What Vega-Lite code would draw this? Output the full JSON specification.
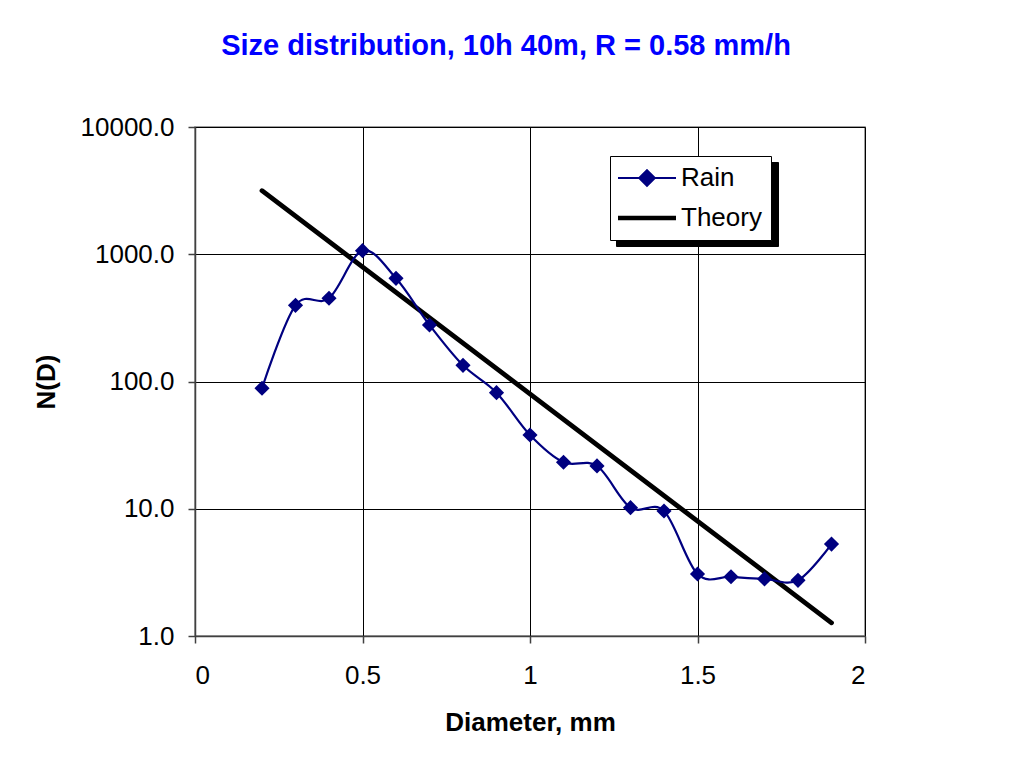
{
  "$schema": "https://vega.github.io/schema/vega-lite/v6.json",
  "width": 670,
  "height": 509,
  "autosize": "none",
  "padding": {"left": 195, "top": 127, "right": 144, "bottom": 130},
  "background": "white",
  "title": {
    "text": "Size distribution, 10h 40m, R = 0.58 mm/h",
    "color": "#0000FF",
    "font": "Liberation Sans",
    "fontSize": 29,
    "fontWeight": "bold",
    "anchor": "middle",
    "frame": "group",
    "dx": -24,
    "offset": 53
  },
  "config": {
    "view": {"stroke": "#808080", "strokeWidth": 1.5},
    "axis": {
      "labelFont": "Liberation Sans",
      "labelFontSize": 26,
      "labelColor": "black",
      "titleFont": "Liberation Sans",
      "titleFontSize": 26,
      "titleFontWeight": "bold",
      "titleColor": "black",
      "domainColor": "#404040",
      "domainWidth": 1.5,
      "tickColor": "#404040",
      "tickWidth": 1.5,
      "tickSize": 7,
      "gridColor": "black",
      "gridWidth": 1,
      "gridOpacity": 1
    }
  },
  "data": {
    "values": [
      {"D": 0.2, "N": 88.5, "series": "Rain"},
      {"D": 0.3, "N": 397, "series": "Rain"},
      {"D": 0.4, "N": 451, "series": "Rain"},
      {"D": 0.5, "N": 1067, "series": "Rain"},
      {"D": 0.6, "N": 647, "series": "Rain"},
      {"D": 0.7, "N": 278, "series": "Rain"},
      {"D": 0.8, "N": 134, "series": "Rain"},
      {"D": 0.9, "N": 81.7, "series": "Rain"},
      {"D": 1.0, "N": 38.0, "series": "Rain"},
      {"D": 1.1, "N": 23.2, "series": "Rain"},
      {"D": 1.2, "N": 21.7, "series": "Rain"},
      {"D": 1.3, "N": 10.2, "series": "Rain"},
      {"D": 1.4, "N": 9.6, "series": "Rain"},
      {"D": 1.5, "N": 3.07, "series": "Rain"},
      {"D": 1.6, "N": 2.92, "series": "Rain"},
      {"D": 1.7, "N": 2.81, "series": "Rain"},
      {"D": 1.8, "N": 2.74, "series": "Rain"},
      {"D": 1.9, "N": 5.28, "series": "Rain"},
      {"D": 0.2, "N": 3160, "series": "Theory"},
      {"D": 1.9, "N": 1.27, "series": "Theory"}
    ]
  },
  "encoding": {
    "x": {
      "field": "D",
      "type": "quantitative",
      "scale": {"domain": [0, 2], "nice": false, "zero": false},
      "axis": {
        "title": "Diameter, mm",
        "values": [0, 0.5, 1, 1.5, 2],
        "format": "~g",
        "labelPadding": 19,
        "titlePadding": 21
      }
    },
    "y": {
      "field": "N",
      "type": "quantitative",
      "scale": {"type": "log", "domain": [1, 10000], "nice": false},
      "axis": {
        "title": "N(D)",
        "values": [1, 10, 100, 1000, 10000],
        "format": ".1f",
        "labelPadding": 14,
        "titlePadding": 21
      }
    },
    "color": {
      "field": "series",
      "type": "nominal",
      "scale": {"domain": ["Rain", "Theory"], "range": ["#000080", "black"]},
      "legend": {
        "orient": "none",
        "legendX": 415,
        "legendY": 29,
        "zindex": 2,
        "title": null,
        "fillColor": "white",
        "strokeColor": "black",
        "padding": 9,
        "rowPadding": 14,
        "labelFont": "Liberation Sans",
        "labelFontSize": 26,
        "labelColor": "black",
        "labelOffset": 21,
        "symbolOffset": 15,
        "symbolSize": 3364,
        "symbolType": "stroke",
        "encode": {
          "symbols": {
            "update": {
              "shape": {"signal": "datum.value === 'Rain' ? 'M-1,0L1,0M0,-0.27L0.27,0L0,0.27L-0.27,0Z' : 'M-1,0L1,0'"},
              "fill": {"signal": "datum.value === 'Rain' ? '#000080' : 'transparent'"},
              "strokeWidth": {"signal": "datum.value === 'Rain' ? 2 : 4.5"},
              "opacity": {"value": 1}
            }
          }
        }
      }
    }
  },
  "layer": [
    {
      "transform": [{"filter": "datum.series === 'Theory'"}],
      "mark": {"type": "line", "strokeWidth": 4.8, "strokeCap": "round", "clip": true},
      "encoding": {
        "opacity": {
          "field": "series",
          "type": "nominal",
          "scale": {"domain": ["Theory", "Rain"], "range": [1, 1]},
          "legend": {
            "orient": "none",
            "legendX": 421,
            "legendY": 35,
            "zindex": 1,
            "title": null,
            "fillColor": "black",
            "strokeColor": "black",
            "padding": 9,
            "rowPadding": 14,
            "labelFont": "Liberation Sans",
            "labelFontSize": 26,
            "labelExpr": "''",
            "labelOffset": 103,
            "symbolOffset": 15,
            "symbolSize": 3364,
            "symbolType": "stroke",
            "symbolStrokeColor": "transparent",
            "symbolFillColor": "transparent",
            "encode": {
              "symbols": {
                "update": {
                  "shape": {"signal": "datum.value === 'Rain' ? 'M-1,0L1,0M0,-0.27L0.27,0L0,0.27L-0.27,0Z' : 'M-1,0L1,0'"},
                  "fill": {"value": "transparent"},
                  "stroke": {"value": "transparent"},
                  "strokeWidth": {"signal": "datum.value === 'Rain' ? 2 : 4.5"},
                  "opacity": {"value": 0}
                }
              }
            }
          }
        }
      }
    },
    {
      "transform": [{"filter": "datum.series === 'Rain'"}],
      "mark": {"type": "line", "strokeWidth": 2.2, "interpolate": "cardinal"}
    },
    {
      "transform": [{"filter": "datum.series === 'Rain'"}],
      "mark": {"type": "point", "shape": "diamond", "filled": true, "size": 230, "opacity": 1}
    }
  ]
}
